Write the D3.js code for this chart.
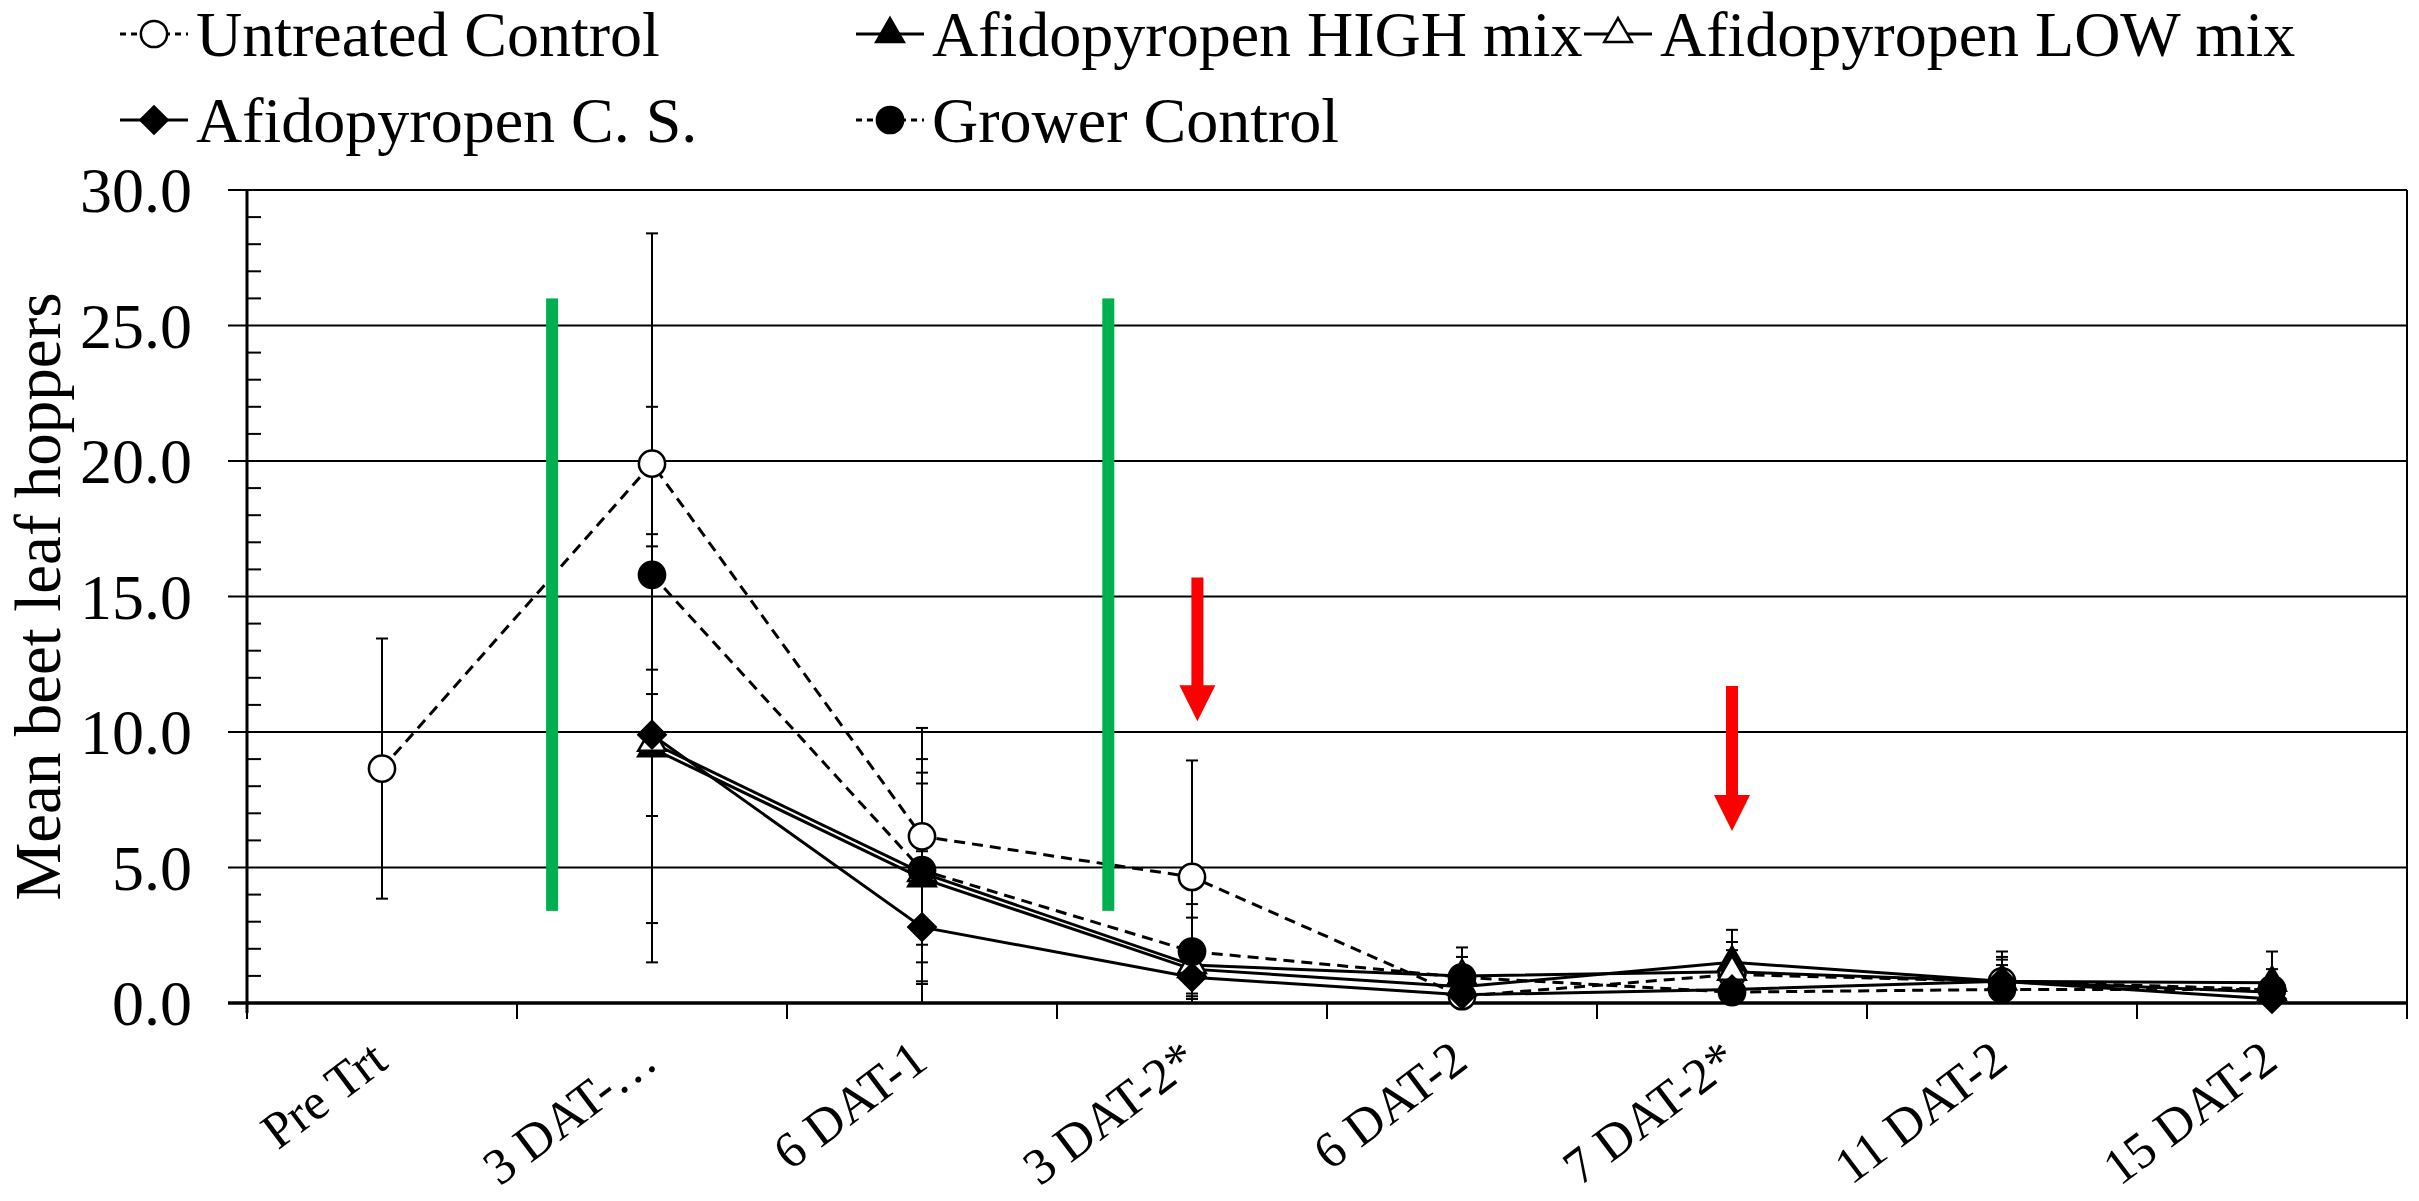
<!doctype html>
<html>
<head>
<meta charset="utf-8" />
<title>Mean beet leaf hoppers</title>
<script src="https://cdn.jsdelivr.net/npm/d3@7"></script>
<style>
  body { margin: 0; background: #fff; }
  text { font-family: "Liberation Serif", "Times New Roman", serif; fill: #000; }
</style>
</head>
<body>
<svg id="chart" width="2419" height="1201"></svg>
<script>
// categories and values
var categories = ['Pre Trt', '3 DAT-\u2026', '6 DAT-1', '3 DAT-2*', '6 DAT-2', '7 DAT-2*', '11 DAT-2', '15 DAT-2'];

var untreated    = [8.65, 19.9, 6.15, 4.65, 0.25, 1.05, 0.8, 0.5];
var untreatedErr = [4.8, 8.5, 4.0, 4.3, 0.4, 0.9, 1.1, 1.4];
var highMix      = [null, 9.4, 4.6, 1.25, 0.6, 1.5, 0.8, 0.75];
var highMixErr   = [null, 7.9, 3.9, 1.0, 0.5, 1.2, 0.8, 0.5];
var lowMix       = [null, 9.6, 4.8, 1.4, 1.0, 1.15, 0.8, 0.4];
var lowMixErr    = [null, 2.7, 3.3, 1.75, 0.7, 1.1, 0.9, 0.4];
var cs           = [null, 9.9, 2.8, 0.95, 0.3, 0.5, 0.8, 0.15];
var csErr        = [null, 6.95, 2.8, 0.8, 0.3, 0.4, 0.6, 0.2];
var grower       = [null, 15.8, 4.9, 1.9, 0.95, 0.4, 0.5, 0.5];
var growerErr    = [null, 6.2, 4.1, 1.75, 1.1, 0.5, 0.7, 0.4];

var yTicks = [0, 5, 10, 15, 20, 25, 30];

// application markers (category index, value range)
var greenBars = [{at: 0.63, from: 3.4, to: 26.0}, {at: 2.69, from: 3.4, to: 26.0}];
var redArrows = [{at: 3.02, from: 15.7, to: 10.4}, {at: 5.0, from: 11.7, to: 6.35}];

var series = [
    {name: 'Untreated Control',     values: untreated, err: untreatedErr, symbol: 'circle',   fill: '#fff', dash: '11,7'},
    {name: 'Afidopyropen HIGH mix', values: highMix,   err: highMixErr,   symbol: 'triangle', fill: '#000', dash: null},
    {name: 'Afidopyropen LOW mix',  values: lowMix,    err: lowMixErr,    symbol: 'triangle', fill: '#fff', dash: null},
    {name: 'Afidopyropen C. S.',    values: cs,        err: csErr,        symbol: 'diamond',  fill: '#000', dash: null},
    {name: 'Grower Control',        values: grower,    err: growerErr,    symbol: 'circle',   fill: '#000', dash: '11,7'}
];

var W = 2419, H = 1201;
var margin = {left: 247, top: 190, right: 12, bottom: 198};
var svg = d3.select('#chart');

var x = d3.scaleLinear().domain([-0.5, categories.length - 0.5]).range([margin.left, W - margin.right]);
var y = d3.scaleLinear().domain([0, 30]).range([H - margin.bottom, margin.top]);

var x0 = x.range()[0], x1 = x.range()[1];
var yBase = y(0), yTop = y(30);

// grid lines
svg.append('g').selectAll('line.grid').data(yTicks).enter().append('line')
    .attr('x1', x0 - 19).attr('x2', x1)
    .attr('y1', function(d) { return y(d); }).attr('y2', function(d) { return y(d); })
    .attr('stroke', '#000').attr('stroke-width', function(d) { return d === 0 ? 3.5 : 2; });

// minor ticks (inside)
svg.append('g').selectAll('line').data(d3.range(0, 31).filter(function(d) { return d % 5 !== 0; })).enter().append('line')
    .attr('x1', x0).attr('x2', x0 + 14)
    .attr('y1', function(d) { return y(d); }).attr('y2', function(d) { return y(d); })
    .attr('stroke', '#000').attr('stroke-width', 2);

// axes frame
svg.append('line').attr('x1', x0).attr('x2', x0).attr('y1', yTop).attr('y2', yBase + 10)
    .attr('stroke', '#000').attr('stroke-width', 3);
svg.append('line').attr('x1', x1).attr('x2', x1).attr('y1', yTop).attr('y2', yBase)
    .attr('stroke', '#000').attr('stroke-width', 2);

// x ticks at category boundaries
svg.append('g').selectAll('line').data(d3.range(-0.5, categories.length, 1)).enter().append('line')
    .attr('x1', function(d) { return x(d); }).attr('x2', function(d) { return x(d); })
    .attr('y1', yBase).attr('y2', yBase + 16)
    .attr('stroke', '#000').attr('stroke-width', 2);

// y tick labels
svg.append('g').selectAll('text').data(yTicks).enter().append('text')
    .attr('x', 192).attr('y', function(d) { return y(d); }).attr('dy', '0.35em')
    .attr('text-anchor', 'end').style('font-size', '64px')
    .text(d3.format('.1f'));

// y title
svg.append('text')
    .attr('transform', 'translate(60,' + ((yTop + yBase) / 2) + ') rotate(-90)')
    .attr('text-anchor', 'middle').style('font-size', '65px')
    .text('Mean beet leaf hoppers');

// x labels
svg.append('g').selectAll('text').data(categories).enter().append('text')
    .attr('transform', function(d, i) { return 'translate(' + (x(i) + 8) + ',1066) rotate(-37)'; })
    .attr('text-anchor', 'end').style('font-size', '51px')
    .text(function(d) { return d; });

function markerPath(s) {
    if (s.symbol === 'circle') return d3.symbol().type(d3.symbolCircle).size(540)();
    if (s.symbol === 'triangle') return d3.symbol().type(d3.symbolTriangle).size(330)();
    return d3.symbol().type(d3.symbolSquare).size(370)();
}

// error bars
series.forEach(function(s) {
    var g = svg.append('g');
    s.values.forEach(function(v, i) {
        if (v == null) return;
        var e = s.err[i];
        var lo = Math.max(0, v - e), hi = v + e;
        g.append('line').attr('x1', x(i)).attr('x2', x(i)).attr('y1', y(lo)).attr('y2', y(hi))
            .attr('stroke', '#000').attr('stroke-width', 2);
        g.append('line').attr('x1', x(i) - 6).attr('x2', x(i) + 6).attr('y1', y(hi)).attr('y2', y(hi))
            .attr('stroke', '#000').attr('stroke-width', 2);
        if (v - e >= 0) {
            g.append('line').attr('x1', x(i) - 6).attr('x2', x(i) + 6).attr('y1', y(lo)).attr('y2', y(lo))
                .attr('stroke', '#000').attr('stroke-width', 2);
        }
    });
});

// series lines
var line = d3.line()
    .defined(function(d) { return d != null; })
    .x(function(d, i) { return x(i); })
    .y(function(d) { return y(d); });

series.forEach(function(s) {
    svg.append('path').datum(s.values)
        .attr('d', line)
        .attr('fill', 'none').attr('stroke', '#000').attr('stroke-width', 3)
        .attr('stroke-dasharray', s.dash);
});

// markers
series.forEach(function(s) {
    svg.append('g').selectAll('path').data(s.values.map(function(v, i) { return {v: v, i: i}; })
            .filter(function(d) { return d.v != null; }))
        .enter().append('path')
        .attr('d', markerPath(s))
        .attr('transform', function(d) {
            return 'translate(' + x(d.i) + ',' + y(d.v) + ')' + (s.symbol === 'diamond' ? ' rotate(45)' : '');
        })
        .attr('fill', s.fill).attr('stroke', '#000').attr('stroke-width', 2.5);
});

// green application bars
svg.append('g').selectAll('rect').data(greenBars).enter().append('rect')
    .attr('x', function(d) { return x(d.at) - 6; }).attr('width', 12)
    .attr('y', function(d) { return y(d.to); })
    .attr('height', function(d) { return y(d.from) - y(d.to); })
    .attr('fill', '#00B050');

// red arrows
svg.append('g').selectAll('path').data(redArrows).enter().append('path')
    .attr('d', function(d) {
        var cx = x(d.at), t = y(d.from), tip = y(d.to), hb = tip - 36;
        return 'M' + (cx - 6) + ',' + t + 'L' + (cx + 6) + ',' + t + 'L' + (cx + 6) + ',' + hb +
               'L' + (cx + 18) + ',' + hb + 'L' + cx + ',' + tip + 'L' + (cx - 18) + ',' + hb +
               'L' + (cx - 6) + ',' + hb + 'Z';
    })
    .attr('fill', '#FF0000');

// legend
var legendPos = [[120, 34], [856, 34], [1584, 34], [120, 120], [856, 120]];
series.forEach(function(s, k) {
    var lx = legendPos[k][0], ly = legendPos[k][1];
    var g = svg.append('g').attr('transform', 'translate(' + lx + ',' + ly + ')');
    g.append('line').attr('x1', 0).attr('x2', 68).attr('y1', 0).attr('y2', 0)
        .attr('stroke', '#000').attr('stroke-width', 3).attr('stroke-dasharray', s.dash ? '6,5' : null);
    g.append('path').attr('d', markerPath(s))
        .attr('transform', 'translate(34,0)' + (s.symbol === 'diamond' ? ' rotate(45)' : ''))
        .attr('fill', s.fill).attr('stroke', '#000').attr('stroke-width', 2.5);
    g.append('text').attr('x', 76).attr('y', 0).attr('dy', '0.35em')
        .style('font-size', '64px').text(s.name);
});
</script>
</body>
</html>
